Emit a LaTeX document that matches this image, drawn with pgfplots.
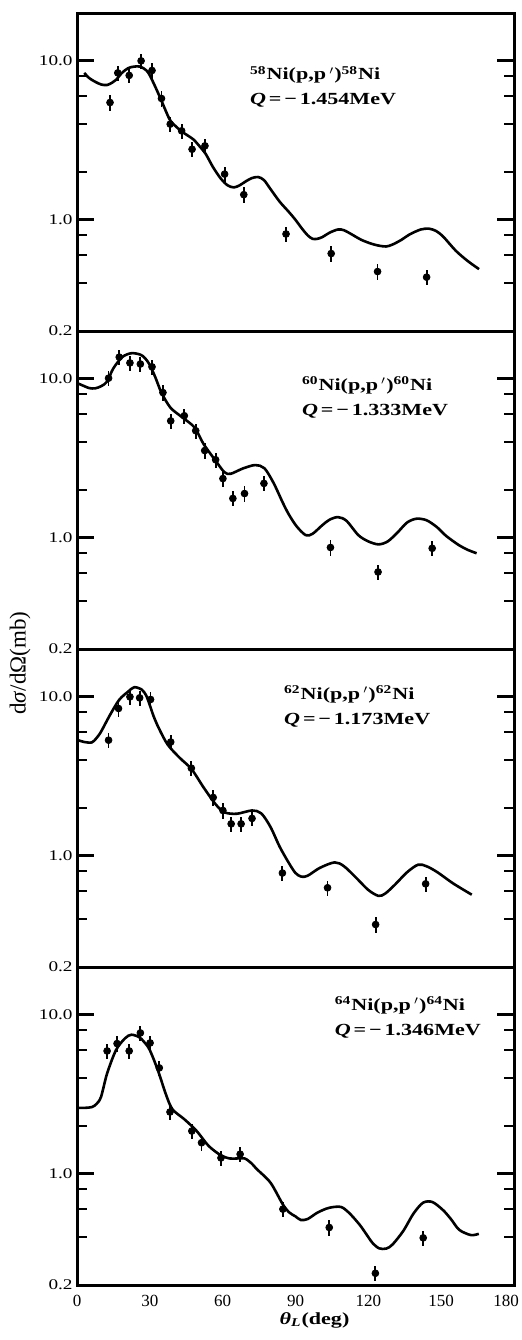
\documentclass[border=0pt]{standalone}
\usepackage{fontspec}
\setmainfont{Liberation Serif}
\newfontfamily\wide{Liberation Serif}[FakeStretch=1.3]
\usepackage{pgfplots}
\pgfplotsset{compat=1.18}

\pgfplotsset{
  nipanel/.style={
    scale only axis, width=218.5pt, height=159pt,
    xmin=0, xmax=180,
    ymin=0.2, ymax=20,
    ytick={0.2,1,10}, yticklabels={0.2,1.0,10.0},
    minor ytick={0.4,0.6,0.8,2,4,6,8},
    ytick pos=both, yticklabel pos=left,
    tick align=inside,
    major tick length=8.5pt, minor tick length=5pt,
    major tick style={line width=1.4pt, black},
    minor tick style={line width=1pt, black},
    axis line style={line width=1.5pt},
    yticklabel style={font=\wide\fontsize{7.4}{8}\selectfont, inner sep=2pt},
  },
  nicurve/.style={black, line width=1.3pt, smooth, tension=0.5, no markers},
  nipts/.style={black, only marks, mark=*, mark size=1.7pt,
    error bars/y dir=both, error bars/y fixed relative=0.11,
    error bars/error mark=none,
    error bars/error bar style={line width=0.9pt}},
}
\tikzset{nilab/.style={anchor=west, align=left,
  font=\wide\bfseries\fontsize{8.5}{12.5}\selectfont}}

\begin{document}
\begin{tikzpicture}
% 58Ni
\begin{semilogyaxis}[nipanel, name=p1,
    xtick=\empty, minor xtick={30,60,90,120,150}, xtick pos=right]
  \addplot[nicurve] coordinates {
    (3,8.4) (5,7.8) (7.4,7.4) (10,7.1) (12.4,7.05) (14.5,7.3) (16.1,7.6)
    (18.5,8.4) (21.1,9.0) (23.5,9.2) (26.1,9.2) (28.6,8.7) (30,8.1) (32,7.0)
    (34.4,5.8) (38.1,4.3) (40.5,3.9) (43.1,3.6) (45.5,3.4) (48,3.2) (50.5,2.9)
    (53,2.6) (56,2.15) (59.2,1.82) (62,1.65) (64.6,1.6) (67,1.65) (69.6,1.75)
    (72,1.83) (74.6,1.86) (77,1.78) (79.6,1.57) (83.5,1.30) (87.3,1.12) (90,1.0)
    (92.7,0.88) (95,0.8) (97,0.76) (99,0.76) (101.1,0.78) (104,0.83) (107.5,0.87)
    (110,0.86) (113.8,0.80) (117,0.75) (121,0.71) (124,0.69) (127.3,0.68) (130,0.70)
    (133.7,0.75) (137,0.81) (141.6,0.87) (145,0.88) (148,0.85) (151,0.78) (156,0.64)
    (161,0.55) (165.6,0.49)
  };
  \addplot[nipts] coordinates {
    (13.6,5.47) (16.8,8.4) (21.5,8.1) (26.4,10.0) (30.9,8.7) (34.8,5.8)
    (38.4,4.0) (43.1,3.63) (47.4,2.78) (52.7,2.92) (60.8,1.94) (68.7,1.44)
    (86.1,0.815) (104.7,0.614) (123.8,0.473) (144,0.436)
  };
  \node[nilab] at (rel axis cs:0.38,0.767)
    {\textsuperscript{58}Ni(p,p\,$'$)\textsuperscript{58}Ni\\\textit{Q}\,=\,−\,1.454MeV};
\end{semilogyaxis}
% 60Ni
\begin{semilogyaxis}[nipanel, name=p2, at={(p1.south west)}, anchor=north west,
    xtick=\empty]
  \addplot[nicurve] coordinates {
    (0.5,9.34) (3,9.0) (5,8.75) (7.4,8.71) (10,9.0) (12.4,9.62) (14.9,11.6)
    (18.6,13.7) (22.4,14.5) (26.1,14.2) (28,13.5) (29.9,12.3) (32.3,10.2)
    (34.8,8.18) (38.5,6.59) (43.4,5.72) (48.4,4.95) (52.1,3.90) (57.0,3.07)
    (60.7,2.59) (63.3,2.53) (68.3,2.73) (73.4,2.87) (77.2,2.74) (81.0,2.21)
    (84.8,1.66) (87.3,1.40) (90.5,1.18) (94.2,1.04) (97,1.06) (101,1.2) (104,1.3)
    (107.5,1.35) (111,1.28) (115.9,1.04) (120,0.95) (124.2,0.91) (128,0.95)
    (132,1.08) (136,1.25) (139.9,1.32) (144,1.29) (148.2,1.17) (152,1.03)
    (157.3,0.90) (161,0.84) (164.6,0.80)
  };
  \addplot[nipts] coordinates {
    (13.0,10.1) (17.4,13.7) (21.8,12.6) (26.1,12.4) (30.9,11.9) (35.4,8.2)
    (38.6,5.44) (44.2,5.86) (48.9,4.72) (52.6,3.54) (57.1,3.10) (60.1,2.36)
    (64.2,1.77) (69,1.90) (77,2.20) (104.4,0.87) (124,0.61) (146.3,0.86)
  };
  \node[nilab] at (rel axis cs:0.499,0.791)
    {\textsuperscript{60}Ni(p,p\,$'$)\textsuperscript{60}Ni\\\textit{Q}\,=\,−\,1.333MeV};
\end{semilogyaxis}
% 62Ni
\begin{semilogyaxis}[nipanel, name=p3, at={(p2.south west)}, anchor=north west,
    xtick=\empty]
  \addplot[nicurve] coordinates {
    (0.5,5.34) (3,5.2) (6.1,5.17) (8,5.5) (9.9,6.04) (13.6,7.7) (17.4,9.59)
    (21.1,10.8) (23.6,11.5) (26.7,11.1) (28.5,10.2) (29.9,8.96) (31.5,7.6)
    (33.6,6.4) (37.3,5.02) (42.2,4.15) (47.2,3.51) (52.1,2.70) (57.0,2.12)
    (60.7,1.88) (65.8,1.84) (72.1,1.93) (75.9,1.85) (79.7,1.52) (83.5,1.14)
    (87.3,0.90) (90,0.78) (92.4,0.74) (95,0.75) (100,0.84) (106.1,0.91) (110,0.86)
    (115.3,0.72) (120,0.61) (124.2,0.56) (127,0.58) (131,0.66) (136,0.79)
    (140.5,0.88) (144,0.86) (148.4,0.79) (155,0.67) (162.6,0.57)
  };
  \addplot[nipts] coordinates {
    (13.0,5.34) (17.1,8.45) (21.8,10.0) (25.8,9.86) (30.3,9.63) (38.6,5.2)
    (47.1,3.56) (56.1,2.33) (60.1,1.93) (63.5,1.59) (67.6,1.59) (72.1,1.72)
    (84.6,0.78) (103.2,0.63) (123,0.37) (143.6,0.667)
  };
  \node[nilab] at (rel axis cs:0.458,0.819)
    {\textsuperscript{62}Ni(p,p\,$'$)\textsuperscript{62}Ni\\\textit{Q}\,=\,−\,1.173MeV};
\end{semilogyaxis}
% 64Ni
\begin{semilogyaxis}[nipanel, name=p4, at={(p3.south west)}, anchor=north west,
    xtick={0,30,60,90,120,150,180},
    xticklabels={0,30,60,90,120,150,\makebox[0pt]{180}\hspace*{8pt}},
    minor xtick={30,60,90,120,150},
    xtick pos=left, xtick style={draw=none},
    xticklabel style={font=\fontsize{8.5}{10}\selectfont, yshift=-1.5pt}]
  \addplot[nicurve] coordinates {
    (0,2.60) (3,2.6) (6.1,2.63) (8,2.75) (9.9,3.05) (12.4,4.28) (16.1,6.02)
    (19.9,7.15) (22.4,7.5) (25.5,7.26) (27.5,6.8) (29.9,6.04) (33.2,4.53)
    (36.9,3.08) (39.4,2.54) (44.3,2.2) (49.3,1.86) (54.2,1.50) (59.2,1.31)
    (62.9,1.25) (66,1.25) (69.1,1.25) (72,1.16) (74.1,1.07) (79.7,0.88)
    (84.7,0.646) (87.3,0.574) (90,0.54) (92.2,0.513) (95,0.52) (99,0.57)
    (103.7,0.611) (108.6,0.62) (112,0.57) (116.5,0.477) (120,0.40) (121.9,0.365)
    (124.5,0.34) (127.4,0.339) (130,0.36) (134.5,0.44) (138.5,0.56) (142.5,0.658)
    (146.4,0.665) (150.8,0.591) (154,0.52) (157.5,0.444) (162.3,0.412) (165.5,0.42)
  };
  \addplot[nipts] coordinates {
    (12.4,5.93) (16.5,6.6) (21.5,5.93) (26.1,7.7) (30.1,6.66) (33.9,4.64)
    (38.3,2.45) (47.3,1.86) (51.3,1.57) (59.3,1.26) (67.2,1.33) (84.8,0.60)
    (103.9,0.46) (122.9,0.237) (142.6,0.396)
  };
  \node[nilab] at (rel axis cs:0.574,0.841)
    {\textsuperscript{64}Ni(p,p\,$'$)\textsuperscript{64}Ni\\\textit{Q}\,=\,−\,1.346MeV};
\end{semilogyaxis}
\node[rotate=90, font=\fontsize{11.5}{13}\selectfont]
  at ([xshift=-28.5pt,yshift=-7pt]p3.north west) {d\textit{σ}/dΩ(mb)};
\node[font=\wide\bfseries\fontsize{8.5}{10}\selectfont]
  at ([xshift=9.5pt,yshift=-17.5pt]p4.south) {\textit{θ}\textsubscript{\textit{L}}(deg)};
\pgfresetboundingbox
\path[use as bounding box] ([xshift=-38.5pt,yshift=6.5pt]p1.north west)
  rectangle ([xshift=3.5pt,yshift=-27.5pt]p4.south east);
\end{tikzpicture}
\end{document}
